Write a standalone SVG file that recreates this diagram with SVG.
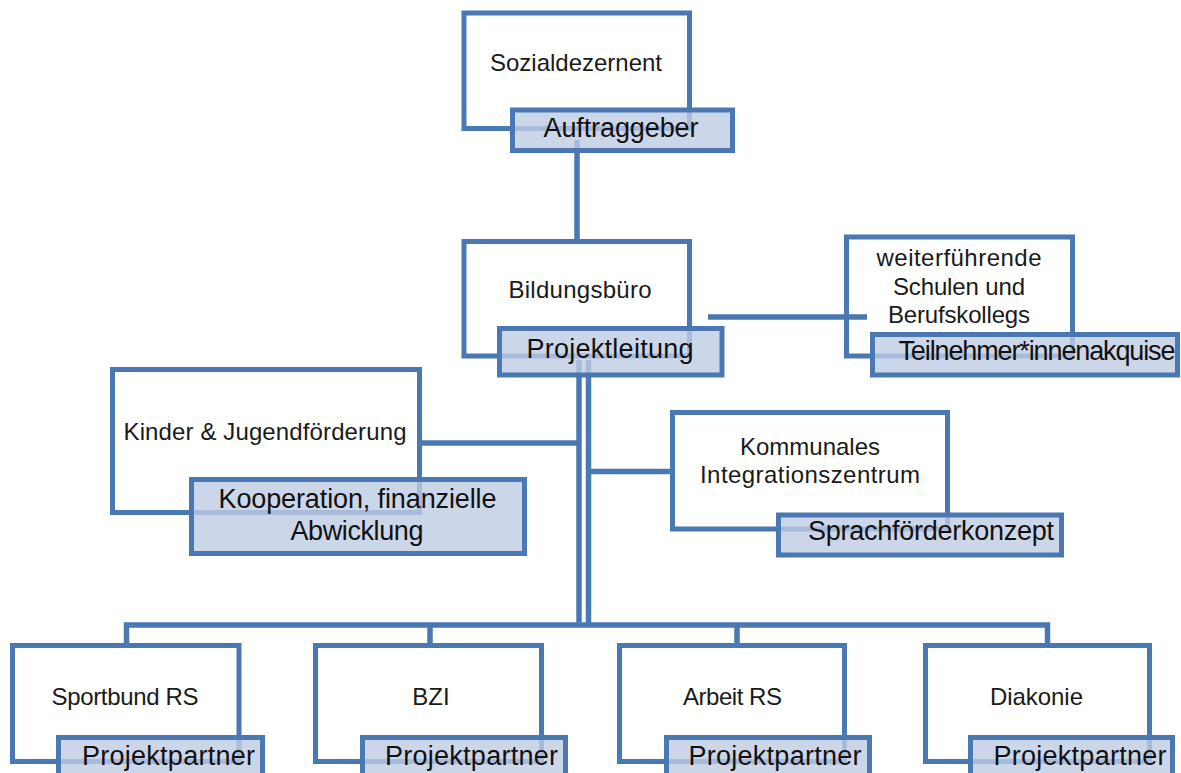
<svg xmlns="http://www.w3.org/2000/svg" width="1181" height="773" viewBox="0 0 1181 773">
<style>
.box{fill:none;stroke:#4a78b2;stroke-width:5}
.lab{fill:#bfcce4;fill-opacity:0.8;stroke:#4a78b2;stroke-width:5}
.con{fill:none;stroke:#4a78b2;stroke-width:5.5}
.t{font-family:"Liberation Sans",Arial,sans-serif;font-size:24px;fill:#1a1a1a;text-anchor:middle}
.l{font-family:"Liberation Sans",Arial,sans-serif;font-size:27px;fill:#111;text-anchor:middle}
</style>
<rect width="1181" height="773" fill="#fff"/>
<g id="connectors">
<line class="con" x1="577" y1="140" x2="577" y2="241"/>
<line class="con" x1="708" y1="317" x2="867" y2="317"/>
<line class="con" x1="579" y1="360" x2="579" y2="625" stroke-width="7.5"/>
<line class="con" x1="588.5" y1="360" x2="588.5" y2="625" stroke-width="7"/>
<line class="con" x1="419.5" y1="443" x2="579" y2="443"/>
<line class="con" x1="588" y1="471.5" x2="672.5" y2="471.5"/>
<polyline class="con" points="126.5,645.5 126.5,625 1047.5,625 1047.5,645.5"/>
<line class="con" x1="430" y1="625" x2="430" y2="645.5"/>
<line class="con" x1="737" y1="625" x2="737" y2="645.5"/>
</g>
<g id="node-sozialdezernent">
<rect class="box" x="464" y="13" width="225.5" height="115.5"/>
<rect class="lab" x="512.5" y="110" width="220" height="40.5"/>
<text class="t" x="576" y="71" textLength="172">Sozialdezernent</text>
<text class="l" x="621" y="137" textLength="155">Auftraggeber</text>
</g>
<g id="node-bildungsbuero">
<rect class="box" x="464" y="241.5" width="225.5" height="114.5"/>
<rect class="lab" x="499.5" y="328.5" width="222.5" height="46.5"/>
<text class="t" x="580" y="298" textLength="143">Bildungsbüro</text>
<text class="l" x="610" y="358" textLength="167">Projektleitung</text>
</g>
<g id="node-schulen">
<rect class="box" x="846.5" y="237" width="226" height="119"/>
<rect class="lab" x="872.5" y="334.5" width="305" height="40.5"/>
<text class="t" x="959" y="266" textLength="165">weiterführende</text>
<text class="t" x="959" y="295" textLength="132">Schulen und</text>
<text class="t" x="959" y="323" textLength="142">Berufskollegs</text>
<text class="l" x="1037" y="360" font-size="25" textLength="277">Teilnehmer*innenakquise</text>
</g>
<g id="node-kinder">
<rect class="box" x="112.5" y="369.5" width="307" height="143"/>
<rect class="lab" x="191.5" y="479.5" width="333" height="74"/>
<text class="t" x="265" y="440" textLength="283">Kinder &amp; Jugendförderung</text>
<text class="l" x="357.5" y="508" textLength="278">Kooperation, finanzielle</text>
<text class="l" x="357" y="540" textLength="133">Abwicklung</text>
</g>
<g id="node-kommunales">
<rect class="box" x="672.5" y="412.5" width="275" height="116.5"/>
<rect class="lab" x="778.5" y="515" width="283" height="40"/>
<text class="t" x="810" y="455" textLength="140">Kommunales</text>
<text class="t" x="810" y="483" textLength="220">Integrationszentrum</text>
<text class="l" x="931" y="540" textLength="246">Sprachförderkonzept</text>
</g>
<g id="node-sportbund">
<rect class="box" x="12.5" y="645.5" width="226.5" height="116"/>
<rect class="lab" x="58.5" y="737.5" width="204" height="45"/>
<text class="t" x="125" y="705" textLength="147">Sportbund RS</text>
<text class="l" x="168.5" y="765" textLength="173">Projektpartner</text>
</g>
<g id="node-bzi">
<rect class="box" x="315.5" y="645.5" width="226" height="116"/>
<rect class="lab" x="362.5" y="737.5" width="203" height="45"/>
<text class="t" x="431" y="705">BZI</text>
<text class="l" x="471.5" y="765" textLength="173">Projektpartner</text>
</g>
<g id="node-arbeit">
<rect class="box" x="619.5" y="645.5" width="225" height="116"/>
<rect class="lab" x="666.5" y="737.5" width="203" height="45"/>
<text class="t" x="732.5" y="705" textLength="99">Arbeit RS</text>
<text class="l" x="775" y="765" textLength="173">Projektpartner</text>
</g>
<g id="node-diakonie">
<rect class="box" x="925.5" y="645.5" width="224" height="116"/>
<rect class="lab" x="970.5" y="737.5" width="202" height="45"/>
<text class="t" x="1036.5" y="705" textLength="93">Diakonie</text>
<text class="l" x="1080" y="765" textLength="173">Projektpartner</text>
</g>
</svg>
